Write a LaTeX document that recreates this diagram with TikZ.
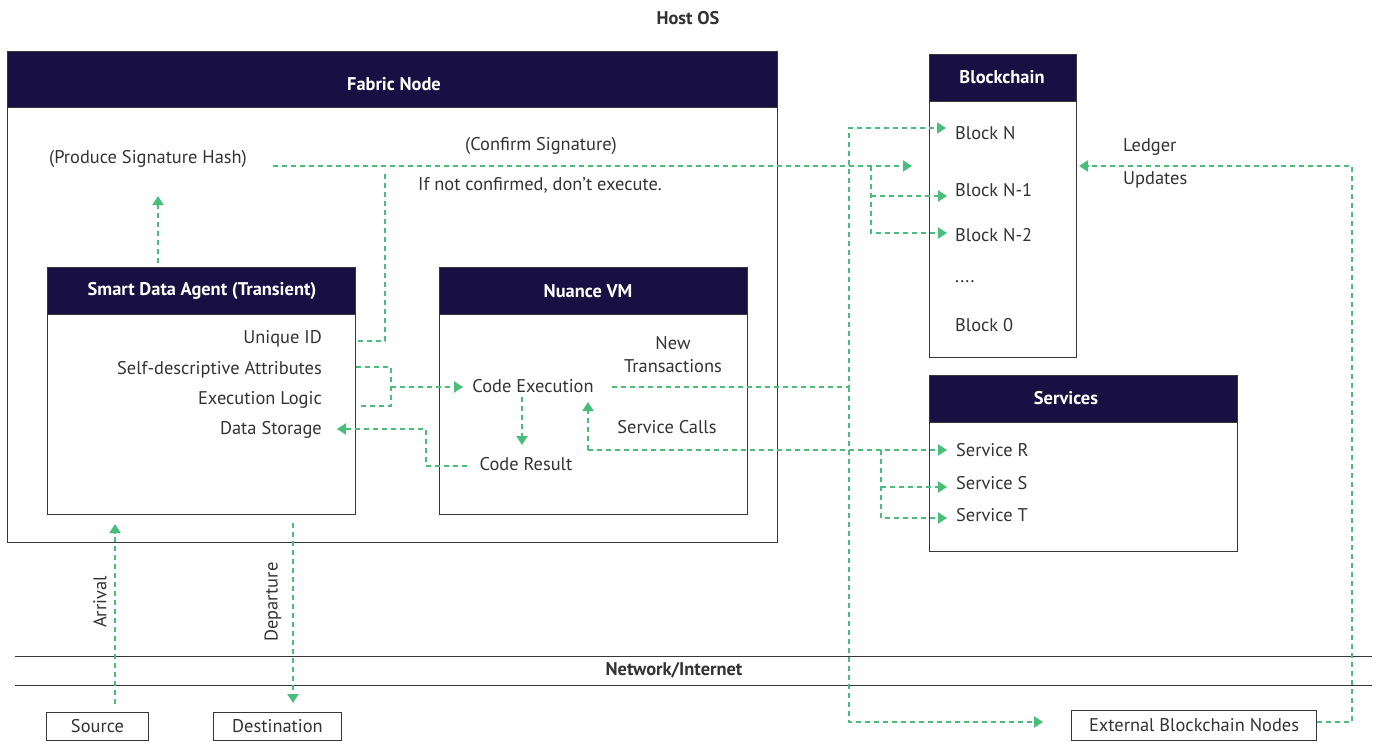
\documentclass[tikz,border=0pt]{standalone}
\usepackage{fontspec}
\setmainfont{PT Sans}
\usetikzlibrary{arrows.meta}
\definecolor{navy}{RGB}{24,16,66}
\definecolor{flowgreen}{RGB}{72,190,122}
\definecolor{ink}{RGB}{51,51,51}
\definecolor{edgegray}{RGB}{55,55,55}
\begin{document}
\begin{tikzpicture}[x=1pt,y=-1pt,
  font=\fontsize{18.4}{22}\selectfont,
  every node/.style={text=ink, inner sep=0pt},
  box/.style={draw=edgegray, line width=1pt, fill=white, anchor=north west},
  head/.style={fill=navy, draw=edgegray, line width=1pt, anchor=north west},
  htext/.style={text=white, font=\fontsize{18.4}{22}\selectfont\bfseries},
  lbl/.style={text=ink},
  flowline/.style={draw=flowgreen, line width=2pt, dash pattern=on 5pt off 4pt},
  flow/.style={flowline, -{Triangle[length=9pt,width=11pt]}},
  plain/.style={draw=edgegray, line width=1pt}
]
\useasboundingbox (0,0) rectangle (1380,741);
\fill[white] (0,0) rectangle (1380,741);

\node[font=\fontsize{18.4}{22}\selectfont\bfseries] (hostos) at (688,18) {Host OS};

% Fabric node
\node[box, minimum width=770pt, minimum height=491pt] (fabric) at (7,51) {};
\node[head, minimum width=770pt, minimum height=56pt] (fabrichead) at (7,51) {};
\node[htext] (fabrict) at (394,84) {Fabric Node};

\node[lbl] (phash) at (148,159) {(Produce Signature Hash)};
\node[lbl] (confirm) at (541,146) {(Confirm Signature)};
\node[lbl] (notconf) at (540,185) {If not confirmed, don't execute.};

% Smart data agent
\node[box, minimum width=308pt, minimum height=247pt] (sda) at (47,267) {};
\node[head, minimum width=308pt, minimum height=47pt] (sdahead) at (47,267) {};
\node[htext] (sdat) at (202,291) {Smart Data Agent (Transient)};
\node[lbl, anchor=east] (uid) at (322,339) {Unique ID};
\node[lbl, anchor=east] (attr) at (322,370) {Self-descriptive Attributes};
\node[lbl, anchor=east] (logic) at (322,400) {Execution Logic};
\node[lbl, anchor=east] (store) at (322,430) {Data Storage};

% Nuance VM
\node[box, minimum width=308pt, minimum height=247pt] (vm) at (439,267) {};
\node[head, minimum width=308pt, minimum height=47pt] (vmhead) at (439,267) {};
\node[htext] (vmt) at (588,291) {Nuance VM};
\node[lbl] (exec) at (533,386) {Code Execution};
\node[lbl] (result) at (526,464) {Code Result};
\node[lbl] (newtx1) at (673,343) {New};
\node[lbl] (newtx2) at (673,366) {Transactions};
\node[lbl] (scalls) at (667,427) {Service Calls};

% Blockchain
\node[box, minimum width=147pt, minimum height=303pt] (chain) at (929,54) {};
\node[head, minimum width=147pt, minimum height=47pt] (chainhead) at (929,54) {};
\node[htext] (chaint) at (1002,77) {Blockchain};
\node[lbl, anchor=west] (bn) at (955,133) {Block N};
\node[lbl, anchor=west] (bn1) at (955,190) {Block N-1};
\node[lbl, anchor=west] (bn2) at (955,235) {Block N-2};
\node[lbl, anchor=west] (bdots) at (955,282) {....};
\node[lbl, anchor=west] (b0) at (955,325) {Block 0};
\node[lbl, anchor=west] (ledger1) at (1123,147) {Ledger};
\node[lbl, anchor=west] (ledger2) at (1123,180) {Updates};

% Services
\node[box, minimum width=308pt, minimum height=176pt] (serv) at (929,375) {};
\node[head, minimum width=308pt, minimum height=47pt] (servhead) at (929,375) {};
\node[htext] (servt) at (1066,398) {Services};
\node[lbl, anchor=west] (sr) at (956,450) {Service R};
\node[lbl, anchor=west] (ss) at (956,483) {Service S};
\node[lbl, anchor=west] (st) at (956,515) {Service T};

% Network
\draw[plain] (15,656) coordinate (netA) -- (1372,656) coordinate (netB);
\draw[plain] (15,685) coordinate (netC) -- (1372,685) coordinate (netD);
\node[font=\fontsize{18.4}{22}\selectfont\bfseries] (net) at (674,670) {Network/Internet};

\node[box, minimum width=102pt, minimum height=28pt] (src) at (46,712) {};
\node (srct) at (src.center) {Source};
\node[box, minimum width=128pt, minimum height=28pt] (dst) at (213,712) {};
\node (dstt) at (dst.center) {Destination};
\node[box, minimum width=245pt, minimum height=30pt] (ext) at (1071,710) {};
\node (extt) at (ext.center) {External Blockchain Nodes};

\node[rotate=90] (arrival) at (100,602) {Arrival};
\node[rotate=90] (departure) at (273,602) {Departure};

% connectors
\coordinate (p1) at (158,263);
\draw[flow] (p1) -- (158,196);

\coordinate (c0) at (273,166);
\coordinate (c1) at (912,166);
\draw[flow] (c0) -- (c1);
\coordinate (br) at (871,166);
\draw[flow] (br) -- (871,233) -- (947,233);
\draw[flow] (871,196) -- (947,196);

\draw[flowline] (358,341) -- (385,341) -- (385,172);

\draw[flowline] (356,367) -- (391,367) -- (391,406) -- (358,406);
\draw[flow] (391,387) -- (463,387);

\draw[flow] (467,466) -- (426,466) -- (426,429) -- (337,429);

\draw[flow] (522,397) -- (522,445);

\coordinate (tx) at (849,387);
\draw[flow] (612,387) -- (tx) -- (849,128) -- (946,128);
\draw[flow] (tx) -- (849,722) -- (1043,722);

\coordinate (sv) at (588,450);
\draw[flow] (sv) -- (588,402);
\draw[flow] (sv) -- (947,450);
\draw[flow] (881,450) -- (881,518) -- (947,518);
\draw[flow] (881,487) -- (947,487);

\draw[flow] (ext.east |- 0,722) -- (1352,722) -- (1352,166) -- (1079,166);

\draw[flow] (115,704) -- (115,524);
\draw[flow] (293,523) -- (293,703);
\end{tikzpicture}
\end{document}
